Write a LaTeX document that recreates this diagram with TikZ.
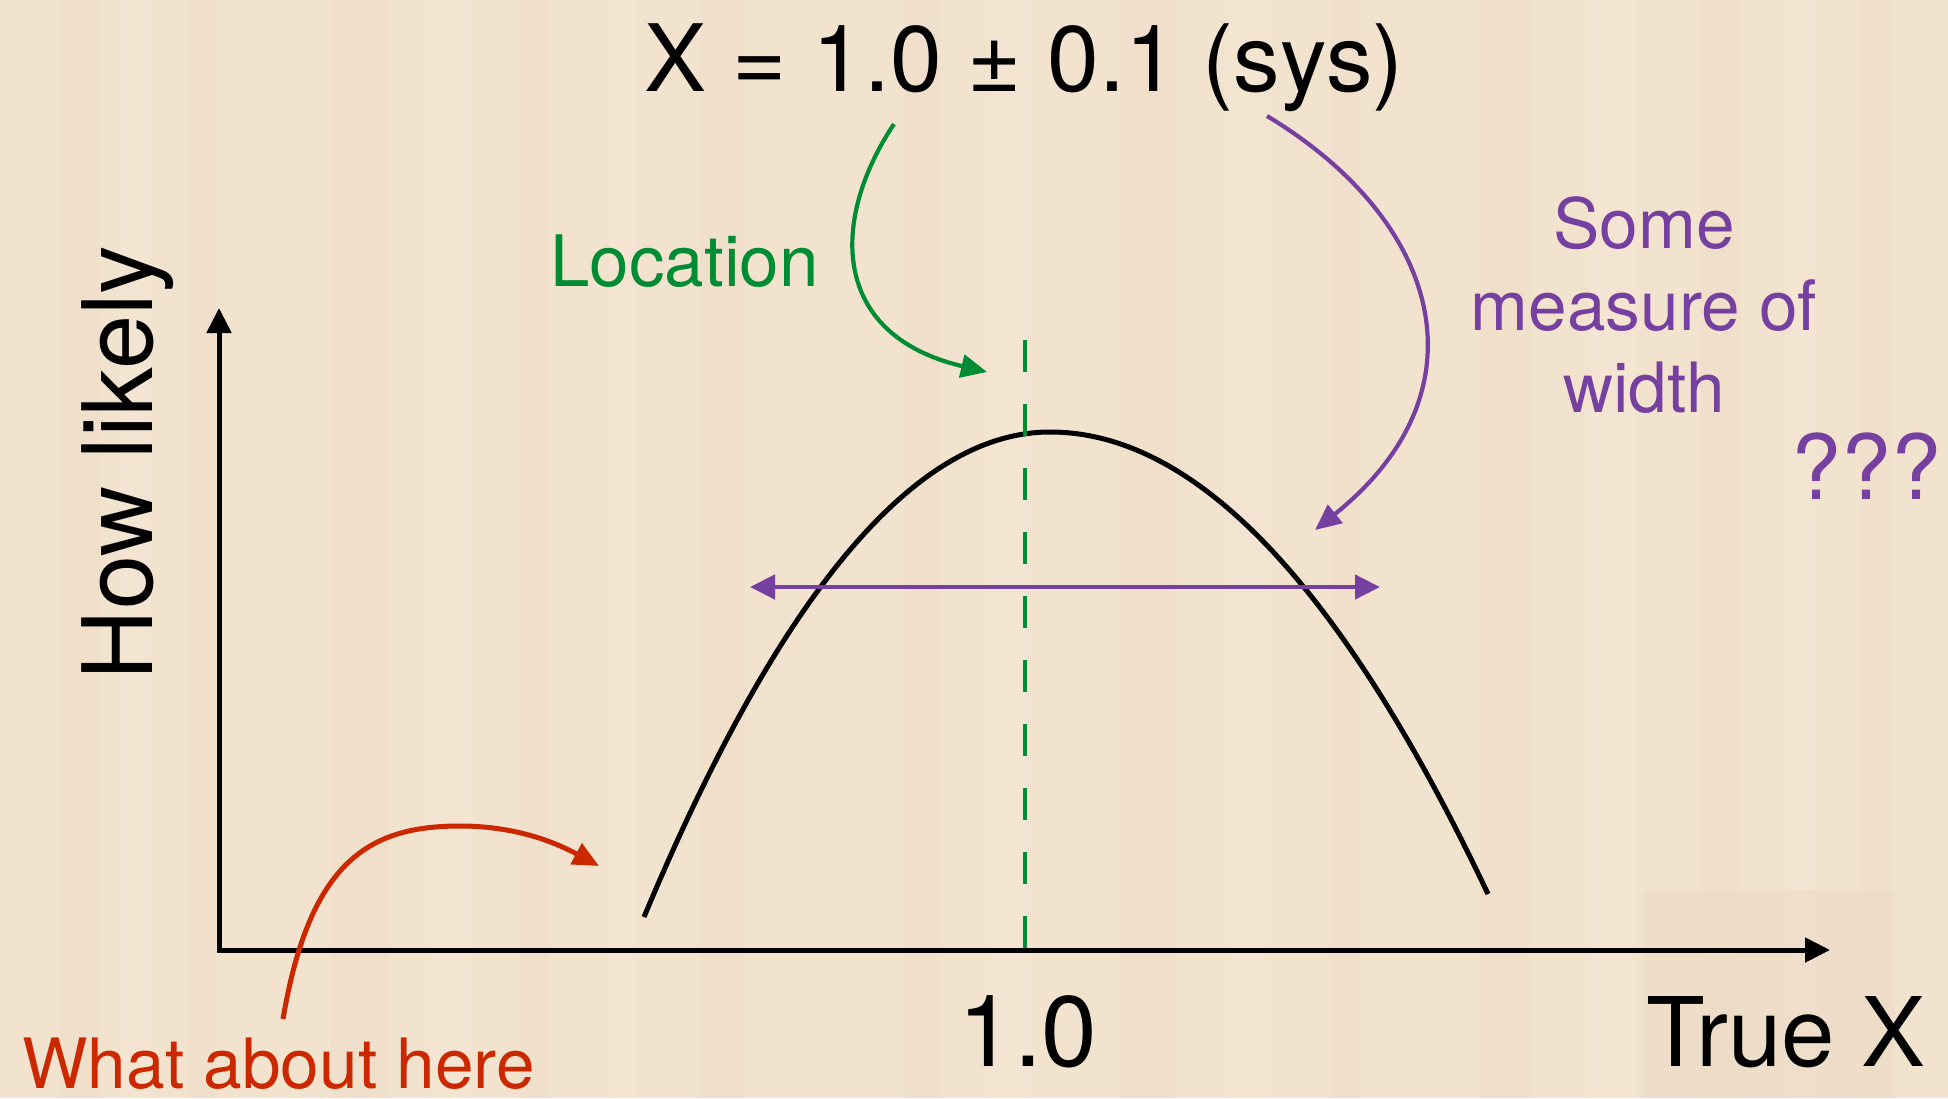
\documentclass[tikz,border=0pt]{standalone}
\usepackage{fontspec}
\setmainfont{TeX Gyre Heros}
\usetikzlibrary{arrows.meta}
\definecolor{bg}{RGB}{242,227,207}
\definecolor{bgd}{RGB}{236,219,197}
\definecolor{bgl}{RGB}{245,232,214}
\definecolor{grn}{RGB}{0,140,50}
\definecolor{prp}{RGB}{118,64,160}
\definecolor{rd}{RGB}{204,40,0}
\tikzset{
  lbl/.style={inner sep=0pt, anchor=base},
  axis/.style={line width=2.5pt, black, {Triangle[length=12.5pt,width=12pt]}-{Triangle[length=12.5pt,width=12pt]}},
  tipg/.style={-{Triangle[length=13pt,width=11.5pt]}},
}
\begin{document}
\begin{tikzpicture}[x=0.5pt,y=-0.5pt]
\fill[bg] (0,0) rectangle (1948,1098);
\useasboundingbox (0,0) rectangle (1948,1098);
% faint wood grain
\foreach \xa/\w in {60/40, 190/25, 330/60, 520/30, 700/45, 905/35, 1120/55, 1330/30, 1480/50, 1700/40, 1860/30}
  \fill[bgd, opacity=0.3] (\xa,0) rectangle (\xa+\w,1098);
\foreach \xa/\w in {120/30, 430/40, 610/25, 990/40, 1230/35, 1590/45, 1790/25}
  \fill[bgl, opacity=0.4] (\xa,0) rectangle (\xa+\w,1098);
\fill[bgd, opacity=0.5] (1643,890) rectangle (1895,1098);

% axes
\coordinate (O) at (219,950);
\coordinate (ytip) at (219,308);
\coordinate (xtip) at (1830,950);
\draw[axis] (ytip) -- (O) -- (xtip);

% texts
\node[lbl, font=\fontsize{46.5pt}{50pt}\selectfont] (title) at (1024,91) {X = 1.0 ± 0.1 (sys)};
\node[lbl, rotate=90, font=\fontsize{48.6pt}{52pt}\selectfont] (ylab) at (152,463) {How likely};
\node[lbl, font=\fontsize{50pt}{54pt}\selectfont] (tick) at (1028,1066) {1.0};
\node[lbl, anchor=base east, font=\fontsize{48pt}{54pt}\selectfont] (xlab) at (1926,1066) {True X};
\node[lbl, anchor=base west, text=rd, font=\fontsize{34.7pt}{40pt}\selectfont] (what) at (22,1088) {What about here};
\node[lbl, anchor=base west, text=grn, font=\fontsize{35.5pt}{40pt}\selectfont] (loc) at (550,286) {Location};
\node[inner sep=0pt, anchor=north, text=prp, align=center, font=\fontsize{34.7pt}{41pt}\selectfont] (width) at (1644,196) {Some\\measure of\\width};
\node[lbl, anchor=base east, text=prp, font=\fontsize{45pt}{52pt}\selectfont] (qqq) at (1942,499) {???};

% distribution curve (two half-parabolas)
\coordinate (cl) at (644,917);
\coordinate (cp) at (1050,432);
\coordinate (cr) at (1488,894);
\draw[line width=2.5pt, black] (cl) .. controls (779,594) and (915,432) .. (cp)
  .. controls (1196,432) and (1342,586) .. (cr);

% location dashed line
\coordinate (dtop) at (1025,340);
\coordinate (dbot) at (1025,950);
\draw[grn, line width=2.4pt, dash pattern=on 16pt off 16pt] (dtop) -- (dbot);

% width double arrow
\coordinate (wl) at (750,587);
\coordinate (wr) at (1380,587);
\draw[prp, line width=2.3pt, {Triangle[length=12.5pt,width=12pt]}-{Triangle[length=12.5pt,width=12pt]}] (wl) -- (wr);

% green arrow
\coordinate (gs) at (894,124);
\coordinate (ge) at (987,372);
\draw[grn, line width=2.1pt, tipg] (gs) .. controls (830,220) and (830,335) .. (ge);

% purple arrow
\coordinate (ps) at (1267,116);
\coordinate (pe) at (1315,530);
\draw[prp, line width=2.1pt, tipg] (ps) .. controls (1440,220) and (1490,390) .. (pe);

% red arrow
\coordinate (rs) at (283,1019);
\coordinate (rm) at (460,826);
\coordinate (re) at (599,866);
\draw[rd, line width=2.5pt, tipg] (rs) .. controls (310,860) and (370,826) .. (rm) .. controls (520,826) and (560,845) .. (re);
\end{tikzpicture}
\end{document}
